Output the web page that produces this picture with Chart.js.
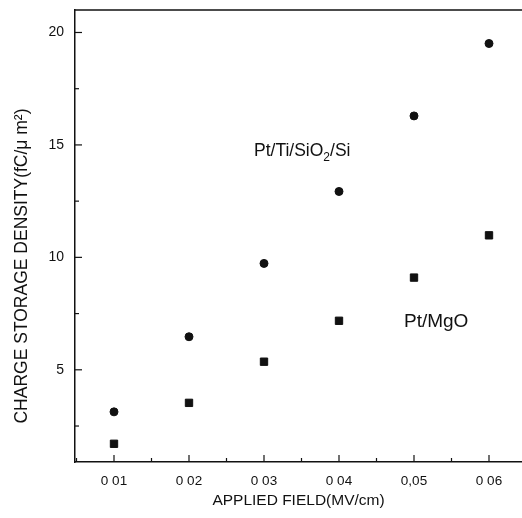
<!DOCTYPE html>
<html>
<head>
<meta charset="utf-8">
<script src="https://cdn.jsdelivr.net/npm/chart.js@4"></script>
<style>
  html, body { margin: 0; background: #fff; overflow: hidden; }
  #wrap { width: 522px; height: 518px; position: relative; }
  canvas { display: block; }
</style>
</head>
<body>
<div id="wrap"><canvas id="chart"></canvas></div>
<script>
// dados
const fieldValues = [0.01, 0.02, 0.03, 0.04, 0.05, 0.06];
const ptTiSiValues = [3.13, 6.47, 9.73, 12.93, 16.29, 19.51];
const ptMgoValues = [1.71, 3.53, 5.36, 7.18, 9.10, 10.98];
const xTickLabels = ['0 01', '0 02', '0 03', '0 04', '0,05', '0 06'];
const yTickValues = [5, 10, 15, 20];
const xMinorTicks = [0.005, 0.015, 0.025, 0.035, 0.045, 0.055];
const yMinorTicks = [2.5, 7.5, 12.5, 17.5];

const FONT = '"Liberation Sans", Arial, sans-serif';
const INK = '#111';

function toPoints(ys) {
    return fieldValues.map((x, i) => ({ x: x, y: ys[i] }));
}

function seg(ctx, x1, y1, x2, y2) {
    ctx.beginPath();
    ctx.moveTo(x1, y1);
    ctx.lineTo(x2, y2);
    ctx.stroke();
}

// moldura de cima, ticks para dentro, rótulos e título do eixo y
const decorations = {
    id: 'decorations',
    afterDraw(chart) {
        const ctx = chart.ctx;
        const a = chart.chartArea;
        const x = chart.scales.x;
        const y = chart.scales.y;
        ctx.save();
        ctx.strokeStyle = INK;
        ctx.lineWidth = 1.5;
        seg(ctx, a.left, a.top, a.right, a.top);

        ctx.lineWidth = 1.2;
        yTickValues.forEach(v => { const p = y.getPixelForValue(v); seg(ctx, a.left, p, a.left + 7, p); });
        yMinorTicks.forEach(v => { const p = y.getPixelForValue(v); seg(ctx, a.left, p, a.left + 4, p); });
        fieldValues.forEach(v => { const p = x.getPixelForValue(v); seg(ctx, p, a.bottom, p, a.bottom - 7); });
        xMinorTicks.forEach(v => { const p = x.getPixelForValue(v); seg(ctx, p, a.bottom, p, a.bottom - 4); });

        ctx.fillStyle = INK;
        ctx.textBaseline = 'alphabetic';
        ctx.textAlign = 'left';

        // Pt/Ti/SiO2/Si
        ctx.font = '17.5px ' + FONT;
        let tx = 254, ty = 156;
        ctx.fillText('Pt/Ti/SiO', tx, ty);
        tx += ctx.measureText('Pt/Ti/SiO').width;
        ctx.font = '12px ' + FONT;
        ctx.fillText('2', tx, ty + 5);
        tx += ctx.measureText('2').width;
        ctx.font = '17.5px ' + FONT;
        ctx.fillText('/Si', tx, ty);

        ctx.font = '19px ' + FONT;
        ctx.fillText('Pt/MgO', 404, 327);

        // título do eixo y
        ctx.save();
        ctx.translate(27, 266);
        ctx.rotate(-Math.PI / 2);
        ctx.textAlign = 'center';
        ctx.font = '17.5px ' + FONT;
        ctx.fillText('CHARGE STORAGE DENSITY(fC/\u03bc m\u00b2)', 0, 0);
        ctx.restore();

        ctx.restore();
    }
};

const ctx = document.getElementById('chart').getContext('2d');
const chart = new Chart(ctx, {
    type: 'scatter',
    data: {
        datasets: [{
            label: 'Pt/Ti/SiO2/Si',
            data: toPoints(ptTiSiValues),
            pointStyle: 'circle',
            pointRadius: 4,
            backgroundColor: INK,
            borderColor: INK,
            borderWidth: 1
        }, {
            label: 'Pt/MgO',
            data: toPoints(ptMgoValues),
            pointStyle: 'rect',
            pointRadius: 5.2,
            backgroundColor: INK,
            borderColor: INK,
            borderWidth: 1
        }]
    },
    options: {
        responsive: true,
        maintainAspectRatio: false,
        animation: false,
        layout: { autoPadding: false, padding: { top: 10, right: 0, left: 0, bottom: 0 } },
        plugins: {
            legend: { display: false },
            tooltip: { enabled: false }
        },
        scales: {
            x: {
                type: 'linear',
                min: 0.0048,
                max: 0.0644,
                afterFit: scale => {
                    scale.height = 56;
                    scale.paddingLeft = 0;
                    scale.paddingRight = 0;
                },
                afterBuildTicks: scale => { scale.ticks = fieldValues.map(v => ({ value: v })); },
                grid: { display: false, drawTicks: false },
                border: { display: true, color: INK, width: 1.5 },
                ticks: {
                    padding: 11,
                    color: INK,
                    font: { family: FONT, size: 13.5 },
                    maxRotation: 0,
                    callback: (v, i) => xTickLabels[i]
                },
                title: {
                    display: true,
                    text: 'APPLIED FIELD(MV/cm)',
                    color: INK,
                    font: { family: FONT, size: 15.5 },
                    padding: { top: 0, bottom: 8 }
                }
            },
            y: {
                type: 'linear',
                min: 0.9,
                max: 21,
                afterFit: scale => {
                    scale.width = 75;
                    scale.paddingTop = 0;
                    scale.paddingBottom = 0;
                },
                afterBuildTicks: scale => { scale.ticks = yTickValues.map(v => ({ value: v })); },
                grid: { display: false, drawTicks: false },
                border: { display: true, color: INK, width: 1.5 },
                ticks: {
                    padding: 11,
                    color: INK,
                    font: { family: FONT, size: 14 }
                }
            }
        }
    },
    plugins: [decorations]
});
</script>
</body>
</html>
